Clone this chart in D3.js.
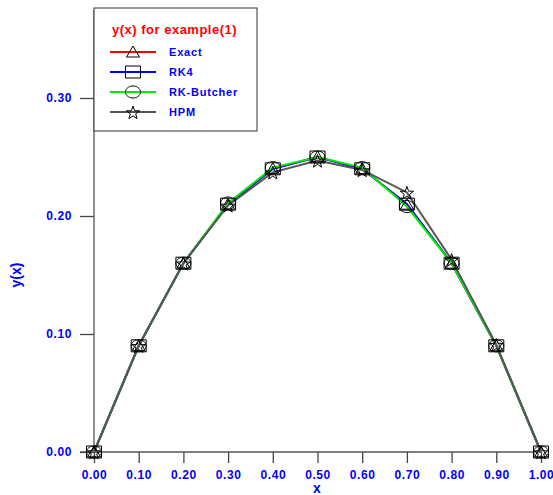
<!DOCTYPE html>
<html>
<head>
<meta charset="utf-8">
<script src="https://cdn.jsdelivr.net/npm/d3@7"></script>
<style>
  body { margin: 0; background: #fff; }
  text { font-family: "Liberation Sans", Arial, sans-serif; font-weight: bold; }
</style>
</head>
<body>
<svg id="chart" width="553" height="495"></svg>
<script>
const xs = [0, 0.1, 0.2, 0.3, 0.4, 0.5, 0.6, 0.7, 0.8, 0.9, 1.0];
const exact = [0, 0.09, 0.16, 0.21, 0.24, 0.25, 0.24, 0.21, 0.16, 0.09, 0];
const rk4 = [0, 0.09, 0.16, 0.21, 0.24, 0.25, 0.24, 0.21, 0.16, 0.09, 0];
const butcher = [0, 0.09, 0.16, 0.211, 0.241, 0.25, 0.241, 0.208, 0.16, 0.09, 0];
const hpm = [0, 0.09, 0.16, 0.209, 0.237, 0.247, 0.239, 0.22, 0.163, 0.091, 0];
const xTicks = [0, 0.1, 0.2, 0.3, 0.4, 0.5, 0.6, 0.7, 0.8, 0.9, 1.0];
const yTicks = [0, 0.1, 0.2, 0.3];

// marker shapes, roughly 15x12 px like the original plot
const triangle = { draw(c) { c.moveTo(0, -6); c.lineTo(6.5, 5); c.lineTo(-6.5, 5); c.closePath(); } };
const square = { draw(c) { c.rect(-7.5, -6, 15, 12); } };
const ellipse = { draw(c) {
  for (let k = 0; k <= 40; k++) {
    const a = k / 40 * 2 * Math.PI;
    if (k === 0) c.moveTo(7.5, 0); else c.lineTo(7.5 * Math.cos(a), 6 * Math.sin(a));
  }
  c.closePath();
} };
const star = { draw(c) {
  for (let k = 0; k < 10; k++) {
    const r = k % 2 ? 2.8 : 7;
    const a = -Math.PI / 2 + k * Math.PI / 5;
    if (k === 0) c.moveTo(r * Math.cos(a), r * Math.sin(a) + 1); else c.lineTo(r * Math.cos(a), r * Math.sin(a) + 1);
  }
  c.closePath();
} };

const series = [
  { name: 'Exact', values: exact, color: '#ff0000', marker: triangle },
  { name: 'RK4', values: rk4, color: '#0000ff', marker: square },
  { name: 'RK-Butcher', values: butcher, color: '#00ee00', marker: ellipse },
  { name: 'HPM', values: hpm, color: '#555555', marker: star }
];

const svg = d3.select('#chart');
const x = d3.scaleLinear().domain([0, 1]).range([94, 541]);
const y = d3.scaleLinear().domain([0, 0.3]).range([452, 98]);

// axes
const xAxis = svg.append('g').attr('transform', 'translate(0,452)')
  .call(d3.axisBottom(x).tickValues(xTicks).tickFormat(d3.format('.2f')).tickSize(11).tickSizeOuter(0).tickPadding(7));
xAxis.select('.domain').remove();
svg.append('line').attr('x1', 80).attr('x2', x(1)).attr('y1', 452).attr('y2', 452)
  .attr('stroke', '#555').attr('stroke-width', 1.3);

const yAxis = svg.append('g').attr('transform', 'translate(94,0)')
  .call(d3.axisLeft(y).tickValues(yTicks).tickFormat(d3.format('.2f')).tickSize(14).tickSizeOuter(0).tickPadding(8));
yAxis.select('.domain').remove();
svg.append('line').attr('x1', 94).attr('x2', 94).attr('y1', 452).attr('y2', 10)
  .attr('stroke', '#555').attr('stroke-width', 1.3);

svg.selectAll('.tick line').attr('stroke', '#444').attr('stroke-width', 1.3);
svg.selectAll('.tick text').attr('fill', '#0000ff').style('font-size', '12px')
  .style('letter-spacing', '0.6px')
  .style('font-family', '"Liberation Sans", Arial, sans-serif').style('font-weight', 'bold');

svg.append('text').attr('x', 317).attr('y', 493).attr('text-anchor', 'middle')
  .attr('fill', '#0000ff').style('font-size', '14px').text('x');
svg.append('text').attr('transform', 'translate(21,275) rotate(-90)').attr('text-anchor', 'middle')
  .attr('fill', '#0000ff').style('font-size', '14px').text('y(x)');

// lines
const line = d3.line().x((d, i) => x(xs[i])).y(d => y(d));
series.forEach(s => {
  svg.append('path').datum(s.values).attr('d', line)
    .attr('fill', 'none').attr('stroke', s.color).attr('stroke-width', 2);
});

// markers
series.forEach(s => {
  svg.append('g').selectAll('path').data(s.values).enter().append('path')
    .attr('transform', (d, i) => `translate(${x(xs[i])},${y(d)})`)
    .attr('d', d3.symbol().type(s.marker))
    .attr('fill', 'none').attr('stroke', '#000').attr('stroke-width', 1);
});

// legend
const lg = svg.append('g');
lg.append('rect').attr('x', 94).attr('y', 8).attr('width', 163).attr('height', 123)
  .attr('fill', '#fff').attr('stroke', '#333').attr('stroke-width', 1);
lg.append('text').attr('x', 112).attr('y', 34).attr('fill', '#ff0000')
  .style('font-size', '13px').style('letter-spacing', '0.5px').text('y(x) for example(1)');
series.forEach((s, i) => {
  const yy = 52 + i * 20;
  lg.append('line').attr('x1', 110).attr('x2', 156).attr('y1', yy).attr('y2', yy)
    .attr('stroke', s.color).attr('stroke-width', 2);
  lg.append('path').attr('transform', `translate(133,${yy})`)
    .attr('d', d3.symbol().type(s.marker))
    .attr('fill', 'none').attr('stroke', '#000').attr('stroke-width', 1);
  lg.append('text').attr('x', 169).attr('y', yy + 4).attr('fill', '#0000ff')
    .style('font-size', '11px').style('letter-spacing', '0.8px').text(s.name);
});
</script>
</body>
</html>
